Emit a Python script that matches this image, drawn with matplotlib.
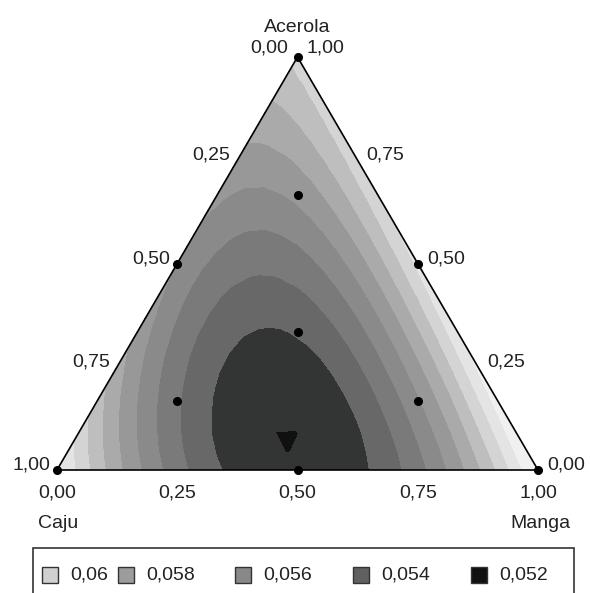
import numpy as np
import matplotlib.pyplot as plt
import matplotlib.tri as mtri
from matplotlib.patches import Rectangle

plt.rcParams['font.family'] = ['Liberation Sans', 'DejaVu Sans']

# fitted mixture model (full cubic), x1 = Acerola, x2 = Caju, x3 = Manga
linear_coef = [0.05928, 0.06129, 0.06228]          # b1, b2, b3
binary_coef = [-0.01730, -0.00209, -0.03886]       # b12, b13, b23
ternary_coef = -0.03787                            # b123
cubic_coef = [0.00146, -0.00018, 0.0015]           # d12, d13, d23

# design points (Acerola, Caju, Manga)
design_acerola = [1, 0, 0, 0.5, 0.5, 0, 2/3, 1/6, 1/6, 1/3]
design_caju = [0, 1, 0, 0.5, 0, 0.5, 1/6, 2/3, 1/6, 1/3]
design_manga = [0, 0, 1, 0, 0.5, 0.5, 1/6, 1/6, 2/3, 1/3]

levels = [0.0, 0.052, 0.053, 0.054, 0.055, 0.056, 0.057, 0.058, 0.059, 0.060, 0.061, 1.0]
colors = ['#101010', '#333535', '#686868', '#7a7a7a', '#8a8a8a', '#989898',
          '#aaaaaa', '#bebebe', '#d4d4d4', '#e4e4e4', '#f0f0f0']

legend_labels = ['0,06', '0,058', '0,056', '0,054', '0,052']
legend_colors = ['#d0d0d0', '#9c9c9c', '#888888', '#606060', '#101010']

tick_labels = ['0,00', '0,25', '0,50', '0,75', '1,00']
tick_values = [0, 0.25, 0.5, 0.75, 1.0]


def model(a, c, m):
    b1, b2, b3 = linear_coef
    b12, b13, b23 = binary_coef
    d12, d13, d23 = cubic_coef
    return (b1 * a + b2 * c + b3 * m
            + b12 * a * c + b13 * a * m + b23 * c * m
            + ternary_coef * a * c * m
            + d12 * a * c * (a - c) + d13 * a * m * (a - m) + d23 * c * m * (c - m))


def to_xy(a, m):
    a = np.asarray(a, dtype=float)
    m = np.asarray(m, dtype=float)
    return m + a / 2, a * np.sqrt(3) / 2


# coarse lattice over the simplex
n = 22
ga, gm = [], []
for i in range(n + 1):
    for j in range(n + 1 - i):
        ga.append(i / n)
        gm.append(j / n)
ga = np.array(ga)
gm = np.array(gm)
gc = 1 - ga - gm
z = model(ga, gc, gm)
gx, gy = to_xy(ga, gm)

fig = plt.figure(figsize=(5.9, 5.93), dpi=100)
ax = fig.add_axes([57/590, 123/593, 481/590, 413/593])
ax.tricontourf(mtri.Triangulation(gx, gy), z, levels=levels, colors=colors)

# triangle outline
vx, vy = to_xy([1, 0, 0, 1], [0, 0, 1, 0])
ax.plot(vx, vy, color='black', lw=1.2, clip_on=False)

dx, dy = to_xy(design_acerola, design_manga)
ax.plot(dx, dy, 'o', color='black', ms=5.5, clip_on=False, zorder=5)

ax.set_xlim(0, 1)
ax.set_ylim(0, np.sqrt(3) / 2)
ax.axis('off')

fs = 14
tc = '#222222'
# left side: Caju fraction
for t, lab in zip(tick_values, tick_labels):
    x, y = to_xy(1 - t, 0)
    if t == 0:
        continue
    ax.annotate(lab, (x, y), xytext=(-7, 5), textcoords='offset pixels',
                ha='right', va='center', fontsize=fs, color=tc)
# right side: Acerola fraction
for t, lab in zip(tick_values, tick_labels):
    x, y = to_xy(t, 1 - t)
    if t == 1:
        continue
    ax.annotate(lab, (x, y), xytext=(9, 5), textcoords='offset pixels',
                ha='left', va='center', fontsize=fs, color=tc)
# bottom: Manga fraction
for t, lab in zip(tick_values, tick_labels):
    x, y = to_xy(0, t)
    ax.annotate(lab, (x, y), xytext=(0, -23), textcoords='offset pixels',
                ha='center', va='center', fontsize=fs, color=tc)
# top vertex
x, y = to_xy(1, 0)
ax.annotate('0,00', (x, y), xytext=(-9, 9), textcoords='offset pixels',
            ha='right', va='center', fontsize=fs, color=tc)
ax.annotate('1,00', (x, y), xytext=(9, 9), textcoords='offset pixels',
            ha='left', va='center', fontsize=fs, color=tc)
ax.annotate('Acerola', (x, y), xytext=(0, 29), textcoords='offset pixels',
            ha='center', va='center', fontsize=fs, color=tc)

fig.text(38/590, 1 - 524/593, 'Caju', ha='left', va='center', fontsize=fs, color=tc)
fig.text(570/590, 1 - 524/593, 'Manga', ha='right', va='center', fontsize=fs, color=tc)

# legend box
W, H = 590, 593
fig.add_artist(Rectangle((33/W, -0.01), (574 - 33)/W, (H - 548)/H + 0.01,
                         transform=fig.transFigure, fill=False, edgecolor='#333333', lw=1.2))
sq_x = [42, 118, 235, 353, 471]
for sx, lab, col in zip(sq_x, legend_labels, legend_colors):
    fig.add_artist(Rectangle((sx/W, 1 - 583/H), 16/W, 16/H, transform=fig.transFigure,
                             facecolor=col, edgecolor='#333333', lw=1))
    fig.text((sx + 28)/W, 1 - 575/H, lab, ha='left', va='center', fontsize=fs, color=tc)

fig.savefig('out.png')
